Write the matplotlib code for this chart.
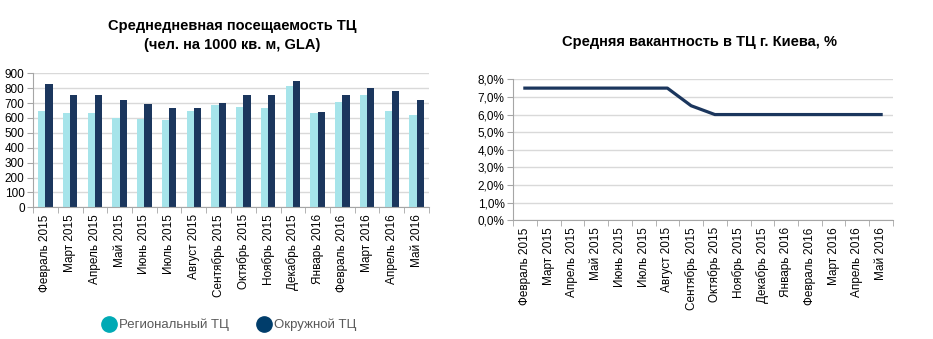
import numpy as np
import matplotlib.pyplot as plt
from matplotlib.ticker import FuncFormatter, MultipleLocator
from matplotlib.lines import Line2D

plt.rcParams['font.family'] = ['Liberation Sans', 'DejaVu Sans']

# ---------- данные ----------
months = ["Февраль 2015", "Март 2015", "Апрель 2015", "Май 2015", "Июнь 2015",
          "Июль 2015", "Август 2015", "Сентябрь 2015", "Октябрь 2015",
          "Ноябрь 2015", "Декабрь 2015", "Январь 2016", "Февраль 2016",
          "Март 2016", "Апрель 2016", "Май 2016"]

regional = [648, 635, 635, 599, 595, 586, 648, 684, 671, 669, 812, 631, 709, 756, 644, 619]
district = [827, 756, 756, 718, 695, 664, 667, 702, 756, 753, 846, 640, 752, 801, 780, 720]

vacancy = [7.5, 7.5, 7.5, 7.5, 7.5, 7.5, 7.5, 6.5, 6.0, 6.0, 6.0, 6.0, 6.0, 6.0, 6.0, 6.0]

c_light = "#a6e4ea"
c_dark = "#1b365d"
c_grid = "#d9d9d9"
c_spine = "#a6a6a6"

fig = plt.figure(figsize=(9.33, 3.39), dpi=100)

x = np.arange(len(months))


def style_axis(ax):
    for s in ["top", "right"]:
        ax.spines[s].set_visible(False)
    ax.spines["left"].set_color(c_spine)
    ax.spines["bottom"].set_color(c_spine)
    ax.set_axisbelow(True)
    ax.yaxis.grid(True, color=c_grid, linewidth=1)
    ax.set_xlim(-0.5, len(months) - 0.5)
    ax.set_xticks(x)
    ax.set_xticklabels(months, rotation=90, fontsize=8.5)
    ax.set_xticks(np.arange(-0.5, len(months)), minor=True)
    ax.tick_params(axis="x", which="major", length=0, pad=5)
    ax.tick_params(axis="x", which="minor", length=4, color=c_spine)
    ax.tick_params(axis="y", length=4, color=c_spine, labelsize=8.5, pad=2)


# ---------- посещаемость ----------
ax1 = fig.add_axes([33 / 933, 1 - 207.3 / 339, (429 - 33) / 933, (207.3 - 73.3) / 339])
w = 0.29
ax1.bar(x - w / 2, regional, width=w, color=c_light)
ax1.bar(x + w / 2, district, width=w, color=c_dark)
ax1.set_ylim(0, 900)
ax1.yaxis.set_major_locator(MultipleLocator(100))
style_axis(ax1)

fig.text(232 / 933, 1 - 26 / 339, "Среднедневная посещаемость ТЦ",
         ha="center", va="center", fontsize=10.5, fontweight="bold")
fig.text(232 / 933, 1 - 45 / 339, "(чел. на 1000 кв. м, GLA)",
         ha="center", va="center", fontsize=10.5, fontweight="bold")

handles = [Line2D([], [], marker="o", linestyle="", markersize=11, color="#00aab5"),
           Line2D([], [], marker="o", linestyle="", markersize=11, color="#003d6b")]
fig.legend(handles, ["Региональный ТЦ", "Окружной ТЦ"], loc="center",
           bbox_to_anchor=(226 / 933, 1 - 325 / 339), ncol=2, frameon=False,
           fontsize=9.5, handletextpad=-0.2, columnspacing=1.6, labelcolor="#595959")

# ---------- вакантность ----------
ax2 = fig.add_axes([513 / 933, 1 - 220.3 / 339, (893 - 513) / 933, (220.3 - 79.3) / 339])
ax2.plot(x, vacancy, color=c_dark, linewidth=2.3, solid_joinstyle="round")
ax2.set_ylim(0, 8)
ax2.yaxis.set_major_locator(MultipleLocator(1))
ax2.yaxis.set_major_formatter(FuncFormatter(lambda v, p: f"{v:.1f}%".replace(".", ",")))
style_axis(ax2)

fig.text(700 / 933, 1 - 42 / 339, "Средняя вакантность в ТЦ г. Киева, %",
         ha="center", va="center", fontsize=10.5, fontweight="bold")

fig.savefig("out.png", dpi=100)
